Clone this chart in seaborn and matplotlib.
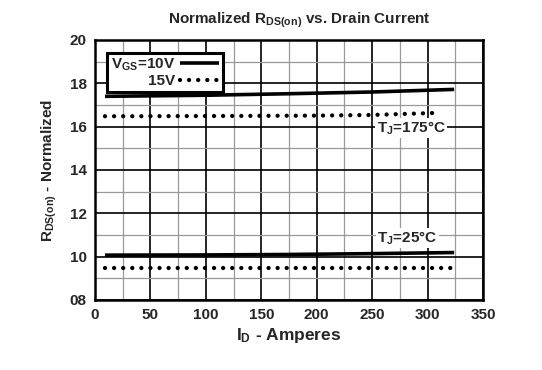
import matplotlib
matplotlib.use("Agg")
import matplotlib.pyplot as plt
import seaborn as sns
from matplotlib.ticker import MultipleLocator, FixedLocator
from matplotlib.lines import Line2D

sns.set_theme(style="white")
plt.rcParams['font.family'] = ['Liberation Sans', 'DejaVu Sans']
plt.rcParams['mathtext.fontset'] = 'custom'
plt.rcParams['mathtext.rm'] = 'Liberation Sans:bold'
plt.rcParams['mathtext.bf'] = 'Liberation Sans:bold'
plt.rcParams['mathtext.it'] = 'Liberation Sans:bold'
plt.rcParams['mathtext.default'] = 'bf'

# Data
x_175_10v = [9, 100, 175, 250, 324]
y_175_10v = [17.40, 17.45, 17.52, 17.60, 17.72]
x_175_15v = [9, 100, 200, 250, 311]
y_175_15v = [16.48, 16.49, 16.51, 16.54, 16.64]
x_25_10v = [9, 100, 173, 250, 324]
y_25_10v = [10.07, 10.08, 10.10, 10.14, 10.19]
x_25_15v = [9, 100, 200, 325]
y_25_15v = [9.46, 9.46, 9.46, 9.46]

x_ticks = [0, 50, 100, 150, 200, 250, 300, 350]
y_ticks = [8, 10, 12, 14, 16, 18, 20]
y_tick_labels = ["08", "10", "12", "14", "16", "18", "20"]

fig = plt.figure(figsize=(5.42, 3.70), dpi=100)
ax = fig.add_axes([0.1753, 0.1892, 0.7158, 0.7027])

ax.set_xlim(0, 350)
ax.set_ylim(8, 20)
ax.xaxis.set_major_locator(FixedLocator(x_ticks))
ax.yaxis.set_major_locator(FixedLocator(y_ticks))
ax.xaxis.set_minor_locator(MultipleLocator(25))
ax.yaxis.set_minor_locator(MultipleLocator(1))
ax.grid(which='minor', color='#999999', linewidth=0.9, zorder=0)
ax.grid(which='major', color='black', linewidth=1.2, zorder=0)
ax.set_axisbelow(True)
for s in ax.spines.values():
    s.set_color('black')
    s.set_linewidth(1.8)

solid_kw = dict(color='black', linewidth=2.6, solid_capstyle='butt')
dot_kw = dict(color='black', linewidth=3.1, linestyle=(0, (0.01, 2.1)),
              dash_capstyle='round')

sns.lineplot(x=x_175_10v, y=y_175_10v, ax=ax, zorder=3, **solid_kw)
sns.lineplot(x=x_175_15v, y=y_175_15v, ax=ax, zorder=3, **dot_kw)
sns.lineplot(x=x_25_10v, y=y_25_10v, ax=ax, zorder=3, **solid_kw)
sns.lineplot(x=x_25_15v, y=y_25_15v, ax=ax, zorder=3, **dot_kw)

ax.set_yticklabels(y_tick_labels)
ax.tick_params(axis='both', which='both', length=0, labelsize=11, pad=6)
for lab in ax.get_xticklabels() + ax.get_yticklabels():
    lab.set_fontweight('bold')

ax.set_xlabel(r"I$_\mathbf{D}$ - Amperes", fontsize=12.5, fontweight='bold', labelpad=3)
ax.set_ylabel(r"R$_\mathbf{DS(on)}$ - Normalized", fontsize=11, fontweight='bold', labelpad=8)
fig.text(0.553, 0.945, r"Normalized R$_\mathbf{DS(on)}$ vs. Drain Current",
         ha='center', va='center', fontsize=11, fontweight='bold')

bbox = dict(facecolor='white', edgecolor='none', pad=1.0)
ax.text(285, 15.94, r"T$_\mathbf{J}$=175°C", ha='center', va='center', fontsize=11,
        fontweight='bold', bbox=bbox, zorder=4)
ax.text(282, 10.86, r"T$_\mathbf{J}$=25°C", ha='center', va='center', fontsize=11,
        fontweight='bold', bbox=bbox, zorder=4)

# Legend
handles = [Line2D([], [], **solid_kw), Line2D([], [], **dot_kw)]
leg = ax.legend(handles, [r"V$_\mathbf{GS}$=10V", "15V"], loc='upper left',
                bbox_to_anchor=(0.031, 0.95), borderaxespad=0, frameon=True,
                fancybox=False, handlelength=2.6, handletextpad=0.3,
                borderpad=0.25, labelspacing=0.05, markerfirst=False,
                prop={'weight': 'bold', 'size': 11})
leg.get_frame().set_edgecolor('black')
leg.get_frame().set_linewidth(2.2)
leg.get_frame().set_alpha(1)
for t in leg.get_texts():
    t.set_ha('right')
leg.set_zorder(5)

fig.savefig("out.png", dpi=100)
